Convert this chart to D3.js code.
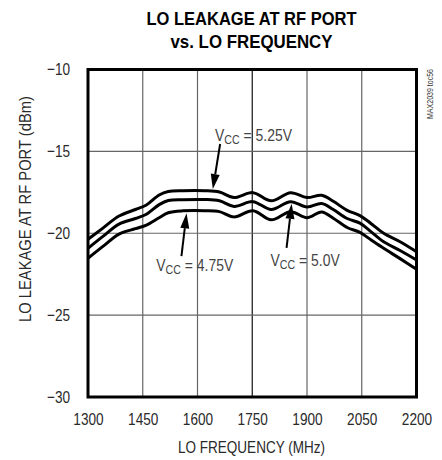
<!DOCTYPE html>
<html>
<head>
<meta charset="utf-8">
<script src="https://cdn.jsdelivr.net/npm/d3@7"></script>
<style>
  html, body { margin: 0; padding: 0; background: #fff; }
  svg { display: block; }
  text { font-family: 'Liberation Sans Narrow', 'Arial Narrow', 'Liberation Sans', sans-serif; }
</style>
</head>
<body>
<svg id="chart" width="442" height="460"></svg>
<script>
// LO leakage measured at the RF port across the LO band, three supply voltages
const freqMHz = [1300, 1340, 1385, 1430, 1460, 1495, 1520, 1560, 1620, 1660, 1700, 1752,
                 1802, 1855, 1900, 1940, 1972, 2010, 2045, 2075, 2110, 2155, 2200];
const vcc525 = [-20.37, -19.70, -18.95, -18.55, -18.27, -17.66, -17.45, -17.40, -17.40, -17.48,
                -17.82, -17.52, -18.02, -17.52, -17.82, -17.68, -18.05, -18.60, -18.92, -19.40,
                -20.00, -20.52, -21.13];
const vcc500 = [-20.92, -20.21, -19.44, -19.10, -18.84, -18.25, -18.00, -17.95, -17.94, -18.02,
                -18.36, -18.07, -18.55, -18.07, -18.40, -18.18, -18.55, -19.10, -19.38, -19.90,
                -20.52, -21.05, -21.63];
const vcc475 = [-21.53, -20.82, -20.05, -19.72, -19.50, -19.05, -18.75, -18.63, -18.62, -18.68,
                -19.00, -18.62, -19.18, -18.68, -19.05, -18.70, -19.08, -19.65, -19.95, -20.40,
                -20.92, -21.55, -22.20];

const xTicks = [1300, 1450, 1600, 1750, 1900, 2050, 2200];
const yTicks = [-10, -15, -20, -25, -30];

// callouts: label text, label anchor (MHz, dBm), arrow tail and tip (MHz, dBm)
const callouts = [
  { value: "5.25V", label: [1648, -14.35], tail: [1662, -14.55], tip: [1642, -17.3] },
  { value: "4.75V", label: [1487, -22.3],  tail: [1556, -21.4],  tip: [1570, -18.78] },
  { value: "5.0V",  label: [1800, -22.0],  tail: [1844, -20.9],  tip: [1858, -18.2] }
];

const svg = d3.select("#chart");
const plotL = 88, plotR = 416.5, plotT = 69.5, plotB = 397;
const narrow = 0.82; // horizontal squeeze that gives a condensed face

const x = d3.scaleLinear().domain([1300, 2200]).range([plotL, plotR]);
const y = d3.scaleLinear().domain([-30, -10]).range([plotB, plotT]);

// squeeze plain text horizontally
function condense(sel, k) {
  sel.each(function () {
    const w = this.getComputedTextLength();
    d3.select(this).attr("textLength", w * k).attr("lengthAdjust", "spacingAndGlyphs");
  });
}

// title
svg.append("text").attr("x", 251.5).attr("y", 25).attr("text-anchor", "middle")
  .attr("font-size", 19).attr("font-weight", "bold").attr("fill", "#000")
  .attr("textLength", 210).attr("lengthAdjust", "spacingAndGlyphs")
  .text("LO LEAKAGE AT RF PORT");
svg.append("text").attr("x", 251.5).attr("y", 48).attr("text-anchor", "middle")
  .attr("font-size", 19).attr("font-weight", "bold").attr("fill", "#000")
  .attr("textLength", 162).attr("lengthAdjust", "spacingAndGlyphs")
  .text("vs. LO FREQUENCY");

// grid
const grid = svg.append("g");
grid.selectAll("line.vx").data(xTicks.slice(1, -1)).join("line")
  .attr("x1", d => x(d)).attr("x2", d => x(d)).attr("y1", plotT).attr("y2", plotB)
  .attr("stroke", d => d === 1750 ? "#111" : "#666").attr("stroke-width", 1.2);
grid.selectAll("line.hy").data(yTicks.slice(1, -1)).join("line")
  .attr("x1", plotL).attr("x2", plotR).attr("y1", d => y(d)).attr("y2", d => y(d))
  .attr("stroke", "#666").attr("stroke-width", 1.2);

// axes (labels only; frame drawn separately)
const xAxis = svg.append("g").attr("transform", `translate(0,${plotB})`)
  .call(d3.axisBottom(x).tickValues(xTicks).tickSize(0).tickPadding(16).tickFormat(d3.format("d")));
const yAxis = svg.append("g").attr("transform", `translate(${plotL},0)`)
  .call(d3.axisLeft(y).tickValues(yTicks).tickSize(0).tickPadding(18).tickFormat(d3.format("d")));
[xAxis, yAxis].forEach(a => {
  a.select(".domain").remove();
  a.selectAll("text").attr("font-size", 17).attr("fill", "#2a2a2a")
    .attr("font-family", "'Liberation Sans Narrow', 'Arial Narrow', 'Liberation Sans', sans-serif");
  condense(a.selectAll("text"), 0.8);
});

// axis titles
svg.append("text").attr("x", 251.5).attr("y", 453).attr("text-anchor", "middle")
  .attr("font-size", 17).attr("fill", "#2a2a2a")
  .attr("textLength", 147).attr("lengthAdjust", "spacingAndGlyphs")
  .text("LO FREQUENCY (MHz)");
svg.append("text").attr("transform", "translate(31,209) rotate(-90)").attr("text-anchor", "middle")
  .attr("font-size", 17).attr("fill", "#2a2a2a")
  .attr("textLength", 226).attr("lengthAdjust", "spacingAndGlyphs")
  .text("LO LEAKAGE AT RF PORT (dBm)");

// part number tag
svg.append("text").attr("transform", "translate(433,94) rotate(-90)").attr("text-anchor", "middle")
  .attr("font-size", 9.5).attr("fill", "#333")
  .attr("textLength", 50).attr("lengthAdjust", "spacingAndGlyphs")
  .text("MAX2039 toc56");

// curves
const line = d3.line().x(d => x(d[0])).y(d => y(d[1])).curve(d3.curveCatmullRom.alpha(0.5));
[vcc525, vcc500, vcc475].forEach(vals => {
  svg.append("path").datum(freqMHz.map((f, i) => [f, vals[i]]))
    .attr("d", line).attr("fill", "none").attr("stroke", "#000")
    .attr("stroke-width", 3).attr("stroke-linejoin", "round");
});

// frame
svg.append("rect").attr("x", plotL).attr("y", plotT).attr("width", plotR - plotL).attr("height", plotB - plotT)
  .attr("fill", "none").attr("stroke", "#000").attr("stroke-width", 3);

// callouts
callouts.forEach(c => {
  const x0 = x(c.tail[0]), y0 = y(c.tail[1]), x1 = x(c.tip[0]), y1 = y(c.tip[1]);
  const ang = Math.atan2(y1 - y0, x1 - x0);
  const len = 15, half = 4.5;
  const bx = x1 - len * Math.cos(ang), by = y1 - len * Math.sin(ang);
  svg.append("line").attr("x1", x0).attr("y1", y0).attr("x2", bx).attr("y2", by)
    .attr("stroke", "#000").attr("stroke-width", 2);
  const px = -Math.sin(ang) * half, py = Math.cos(ang) * half;
  svg.append("path")
    .attr("d", `M${x1},${y1}L${bx + px},${by + py}L${bx - px},${by - py}Z`)
    .attr("fill", "#000");
  const g = svg.append("g")
    .attr("transform", `translate(${x(c.label[0])},${y(c.label[1])}) scale(${narrow},1)`);
  const t = g.append("text").attr("x", 0).attr("y", 0)
    .attr("font-size", 17).attr("fill", "#444");
  t.append("tspan").text("V");
  t.append("tspan").attr("font-size", 13).attr("dy", 3).text("CC");
  t.append("tspan").attr("dy", -3).text(" = " + c.value);
});
</script>
</body>
</html>
